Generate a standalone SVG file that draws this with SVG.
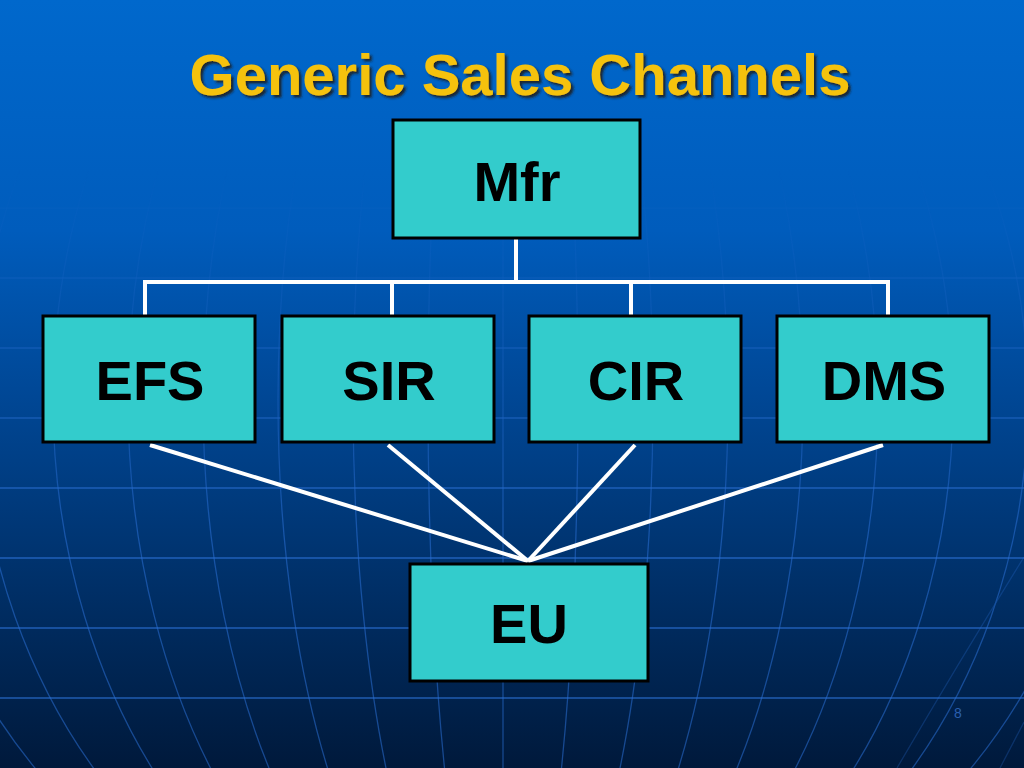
<svg xmlns="http://www.w3.org/2000/svg" width="1024" height="768" viewBox="0 0 1024 768">
  <defs>
    <linearGradient id="bg" x1="0" y1="0" x2="0" y2="1">
      <stop offset="0" stop-color="#0068cc"/>
      <stop offset="0.3" stop-color="#005cbc"/>
      <stop offset="0.6" stop-color="#003f86"/>
      <stop offset="1" stop-color="#00193b"/>
    </linearGradient>
    <linearGradient id="fade" gradientUnits="userSpaceOnUse" x1="0" y1="170" x2="0" y2="520">
      <stop offset="0" stop-color="#fff" stop-opacity="0"/>
      <stop offset="1" stop-color="#fff" stop-opacity="1"/>
    </linearGradient>
    <mask id="gridMask" maskUnits="userSpaceOnUse" x="0" y="0" width="1024" height="768">
      <rect x="0" y="0" width="1024" height="768" fill="url(#fade)"/>
    </mask>
    <filter id="shadow" x="-5%" y="-20%" width="110%" height="150%">
      <feDropShadow dx="2.5" dy="2.5" stdDeviation="0.8" flood-color="#1a1a1a" flood-opacity="0.9"/>
    </filter>
  </defs>
  <style>
    .grid { fill: none; stroke: #2a6fd3; stroke-width: 1.3; }
    .hl { opacity: 0.75; }
    .mer { opacity: 0.55; }
    .node rect { fill: #33cccc; stroke: #000; stroke-width: 3; }
    .node text { font-family: "Liberation Sans", Arial, sans-serif; font-weight: bold; font-size: 56px; fill: #000; text-anchor: middle; }
    .conn { fill: none; stroke: #fff; stroke-width: 4; }
    .title { font-family: "Liberation Sans", Arial, sans-serif; font-weight: bold; font-size: 58px; fill: #f5c20f; text-anchor: middle; }
    .pnum { font-family: "Liberation Sans", Arial, sans-serif; font-size: 14px; fill: #2a5fae; text-anchor: middle; }
  </style>

  <rect x="0" y="0" width="1024" height="768" fill="url(#bg)"/>

  <g id="background-grid" mask="url(#gridMask)">
    <g class="grid hl">
      <line x1="0" y1="208" x2="1024" y2="208"/>
      <line x1="0" y1="278" x2="1024" y2="278"/>
      <line x1="0" y1="348" x2="1024" y2="348"/>
      <line x1="0" y1="418" x2="1024" y2="418"/>
      <line x1="0" y1="488" x2="1024" y2="488"/>
      <line x1="0" y1="558" x2="1024" y2="558"/>
      <line x1="0" y1="628" x2="1024" y2="628"/>
      <line x1="0" y1="698" x2="1024" y2="698"/>
    </g>
    <g class="grid mer">
      <line x1="503" y1="0" x2="503" y2="768"/>
      <ellipse cx="503" cy="400" rx="75" ry="588"/>
      <ellipse cx="503" cy="400" rx="150" ry="588"/>
      <ellipse cx="503" cy="400" rx="225" ry="588"/>
      <ellipse cx="503" cy="400" rx="300" ry="588"/>
      <ellipse cx="503" cy="400" rx="375" ry="588"/>
      <ellipse cx="503" cy="400" rx="450" ry="588"/>
      <ellipse cx="503" cy="400" rx="525" ry="588"/>
      <ellipse cx="503" cy="400" rx="600" ry="588"/>
      <path d="M 897 768 Q 960 660 1024 557" opacity="0.5"/>
      <path d="M 1000 768 Q 1012 745 1024 722" opacity="0.5"/>
    </g>
  </g>

  <text class="title" x="520" y="95" filter="url(#shadow)">Generic Sales Channels</text>

  <g id="connectors">
    <polyline class="conn" points="516,239 516,282"/>
    <polyline class="conn" points="145,315 145,282 888,282 888,315"/>
    <line class="conn" x1="392" y1="282" x2="392" y2="315"/>
    <line class="conn" x1="631" y1="282" x2="631" y2="315"/>
    <line class="conn" x1="150" y1="445" x2="528" y2="561"/>
    <line class="conn" x1="388" y1="445" x2="528" y2="561"/>
    <line class="conn" x1="635" y1="445" x2="528" y2="561"/>
    <line class="conn" x1="883" y1="445" x2="528" y2="561"/>
  </g>

  <g id="node-mfr" class="node">
    <rect x="393" y="120" width="247" height="118"/>
    <text x="517" y="201">Mfr</text>
  </g>
  <g id="node-efs" class="node">
    <rect x="43" y="316" width="212" height="126"/>
    <text x="150" y="400">EFS</text>
  </g>
  <g id="node-sir" class="node">
    <rect x="282" y="316" width="212" height="126"/>
    <text x="389" y="400">SIR</text>
  </g>
  <g id="node-cir" class="node">
    <rect x="529" y="316" width="212" height="126"/>
    <text x="636" y="400">CIR</text>
  </g>
  <g id="node-dms" class="node">
    <rect x="777" y="316" width="212" height="126"/>
    <text x="884" y="400">DMS</text>
  </g>
  <g id="node-eu" class="node">
    <rect x="410" y="564" width="238" height="117"/>
    <text x="529" y="643">EU</text>
  </g>

  <text class="pnum" x="958" y="718">8</text>
</svg>
